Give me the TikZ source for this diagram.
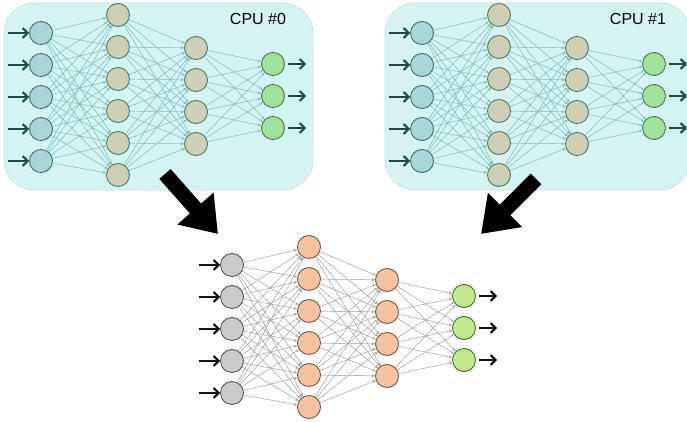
\documentclass[tikz,border=0pt]{standalone}
\usepackage{fontspec}
\setmainfont{Liberation Sans}
\usetikzlibrary{arrows.meta}
\definecolor{boxfill}{HTML}{D5F3F1}
\definecolor{boxline}{HTML}{C8E2E0}
\definecolor{topIn}{HTML}{A9D6D6}
\definecolor{topInLine}{HTML}{3A7070}
\definecolor{topHid}{HTML}{CFCFB4}
\definecolor{topHidLine}{HTML}{4C7A6A}
\definecolor{topOut}{HTML}{9EE59B}
\definecolor{topOutLine}{HTML}{3F7A4A}
\definecolor{topEdge}{HTML}{80BEBC}
\definecolor{topArrow}{HTML}{1F4A4A}
\definecolor{botIn}{HTML}{CCCCCC}
\definecolor{botInLine}{HTML}{555555}
\definecolor{botHid}{HTML}{F9C29E}
\definecolor{botHidLine}{HTML}{6B5A4A}
\definecolor{botOut}{HTML}{C2E98F}
\definecolor{botOutLine}{HTML}{4E6E2E}
\definecolor{botEdge}{HTML}{A3A3A3}
\definecolor{botArrow}{HTML}{111111}
\tikzset{
  neuron/.style={circle, minimum size=23pt, inner sep=0pt, line width=0.9pt},
  edge/.style={line width=0.45pt, -{Stealth[length=3.5pt,width=3pt]}},
  ioarrow/.style={line width=2pt, -{Straight Barb[length=5pt,width=10pt]}},
  bigarrow/.style={line width=15pt, draw=black, -{Triangle[length=34pt,width=46pt]}},
  cpubox/.style={fill=boxfill, draw=boxline, line width=0.8pt, rounded corners=30pt},
  cpulabel/.style={font=\fontsize{16}{18}\selectfont, text=black, inner sep=0pt}
}
\begin{document}
\begin{tikzpicture}[x=1pt,y=-1pt]
\useasboundingbox (0,0) rectangle (687,422);
\path[cpubox] (4,3) rectangle (313,190);
\path[cpubox] (385,3) rectangle (690,190);
\node[cpulabel] (cpu0) at (258,19) {CPU \#0};
\node[cpulabel] (cpu1) at (638,19) {CPU \#1};
\foreach \p/\dx/\dy/\c in {A/0/0/top,B/381/0/top,C/191/232/bot}{
  \begin{scope}[shift={(\dx,\dy)}]
    \foreach \i in {1,...,5}
      \node[neuron, fill=\c In, draw=\c InLine] (\p-1-\i) at (41,1+32*\i) {};
    \foreach \i in {1,...,6}
      \node[neuron, fill=\c Hid, draw=\c HidLine] (\p-2-\i) at (118,-17+32*\i) {};
    \foreach \i in {1,...,4}
      \node[neuron, fill=\c Hid, draw=\c HidLine] (\p-3-\i) at (196,16+32*\i) {};
    \foreach \i in {1,...,3}
      \node[neuron, fill=\c Out, draw=\c OutLine] (\p-4-\i) at (273,32+32*\i) {};
    \foreach \i in {1,...,5}
      \coordinate (\p-s\i) at (8,1+32*\i);
    \foreach \i in {1,...,3}
      \coordinate (\p-t\i) at (306,32+32*\i);
  \end{scope}
  \foreach \i in {1,...,5}
    \foreach \j in {1,...,6}
      \draw[edge, draw=\c Edge, fill=\c Edge] (\p-1-\i) -- (\p-2-\j);
  \foreach \i in {1,...,6}
    \foreach \j in {1,...,4}
      \draw[edge, draw=\c Edge, fill=\c Edge] (\p-2-\i) -- (\p-3-\j);
  \foreach \i in {1,...,4}
    \foreach \j in {1,...,3}
      \draw[edge, draw=\c Edge, fill=\c Edge] (\p-3-\i) -- (\p-4-\j);
  \foreach \i in {1,...,5}
    \draw[ioarrow, draw=\c Arrow] (\p-s\i) -- (\p-1-\i);
  \foreach \i in {1,...,3}
    \draw[ioarrow, draw=\c Arrow, shorten <=3pt] (\p-4-\i) -- (\p-t\i);
}
\coordinate (la0) at (165,174);
\coordinate (la1) at (218,234);
\coordinate (ra0) at (536,179);
\coordinate (ra1) at (481,234);
\draw[bigarrow] (la0) -- (la1);
\draw[bigarrow] (ra0) -- (ra1);
\end{tikzpicture}
\end{document}
